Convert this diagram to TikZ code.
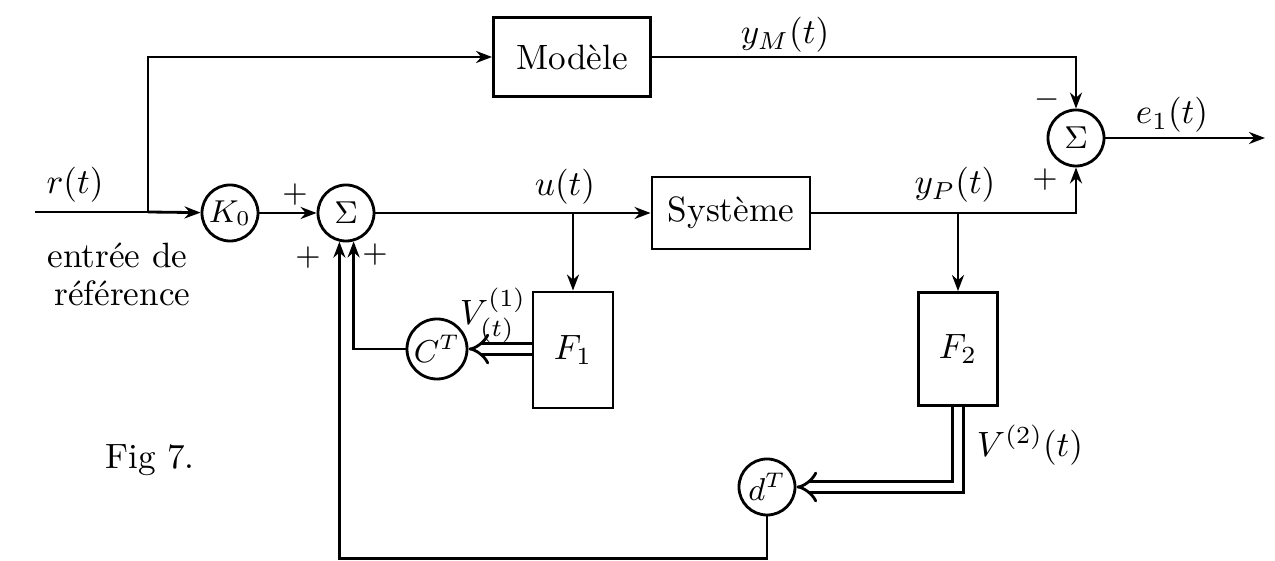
\documentclass[tikz,border=0pt]{standalone}
\usepackage{amsmath}
\usepackage{tikz}
\usetikzlibrary{arrows.meta, positioning, calc}

\begin{document}
\begin{tikzpicture}[
        x=0.01cm, y=0.01cm,
        box/.style={draw, thick, align=center, inner sep=0pt},
        sumnode/.style={draw, thick, circle, minimum size=0.56cm, inner sep=0pt, font=\small},
        arrow/.style={-{Stealth[length=1.6mm]}, thick},
        dblarrow/.style={double, thick, double distance=2.2pt, -{Implies[length=1.2mm]}},
        sign/.style={font=\small}
    ]
    \useasboundingbox (0,0) rectangle (1275,561);
    % blocs
    \node[box, minimum width=1.57cm, minimum height=0.79cm] (model) at (572,504) {Modèle};
    \node[box, minimum width=1.58cm, minimum height=0.72cm] (sys) at (731,348) {Système};
    \node[box, minimum width=0.80cm, minimum height=1.16cm] (f1) at (573,211) {$F_1$};
    \node[box, minimum width=0.79cm, minimum height=1.13cm] (f2) at (958,212) {$F_2$};
    \node[sumnode] (k0) at (230,348) {$K_0$};
    \node[sumnode] (s1) at (346,348) {$\Sigma$};
    \node[sumnode] (s2) at (1076,423) {$\Sigma$};
    \node[sumnode, minimum size=0.6cm] (ct) at (437,212) {$C^T$};
    \node[sumnode] (dt) at (767,74) {$d^T$};
    \coordinate (in) at (35,349);
    \coordinate (br) at (148,349);
    \coordinate (out) at (1265,423);
    \coordinate (ub) at (573,348);
    \coordinate (yb) at (958,348);
    % liaisons
    \draw[thick] (in) -- (br);
    \draw[arrow] (br) -- (k0);
    \draw[arrow] (br) |- (model);
    \draw[arrow] (k0) -- (s1);
    \draw[arrow] (s1) -- (sys);
    \draw[arrow] (ub) -- (f1);
    \draw[arrow] (sys) -| (s2);
    \draw[arrow] (yb) -- (f2);
    \draw[arrow] (model) -| (s2);
    \draw[arrow] (s2) -- (out);
    \draw[dblarrow] (f1.west |- ct) -- (ct);
    \draw[arrow] (ct) -| (s1.-75);
    \draw[dblarrow] (f2) |- (dt);
    \draw[arrow] (dt.south) -- ++(0,-42) -| (s1.-103);
    % textes
    \node (r) at (75,376) {$r(t)$};
    \node[anchor=west] (ent) at (35,306) {entrée de};
    \node[anchor=west] (ref) at (42,268) {référence};
    \node (u) at (565,374) {$u(t)$};
    \node (ym) at (785,526) {$y_M(t)$};
    \node (yp) at (955,376) {$y_P(t)$};
    \node (e1) at (1172,446) {$e_1(t)$};
    \node (v1) at (493,246) {$V^{(1)}_{(t)}$};
    \node (v2) at (1030,116) {$V^{(2)}(t)$};
    \node (fig) at (150,101) {Fig 7.};
    \node[sign] (p1) at (295,366) {$+$};
    \node[sign] (p2) at (308,303) {$+$};
    \node[sign] (p3) at (375,306) {$+$};
    \node[sign] (m4) at (1047,461) {$-$};
    \node[sign] (p5) at (1045,381) {$+$};
\end{tikzpicture}
\end{document}
